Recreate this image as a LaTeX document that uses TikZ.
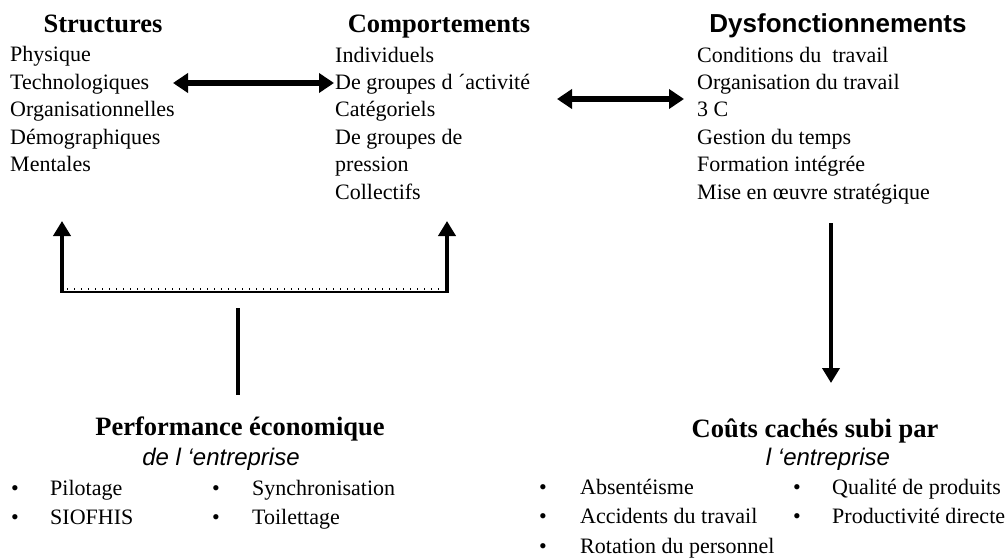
\documentclass[tikz,border=0pt]{standalone}
\usepackage{fontspec}
\setmainfont{Liberation Serif}
\newfontfamily\sansf{Liberation Sans}
\usetikzlibrary{arrows.meta}
\begin{document}
\begin{tikzpicture}[x=1pt,y=-1pt,
  title/.style={anchor=base,inner sep=0pt,font=\fontsize{26.5}{30}\selectfont\bfseries},
  stitle/.style={anchor=base,inner sep=0pt,font=\fontsize{26}{30}\sansf\bfseries},
  sub/.style={anchor=base,inner sep=0pt,font=\fontsize{24}{28}\sansf\itshape},
  lst/.style={anchor=base west,inner sep=0pt,align=left,font=\fontsize{22}{27.4}\selectfont},
  blst/.style={anchor=base west,inner sep=0pt,align=left,font=\fontsize{22}{29.5}\selectfont},
  dbl/.style={line width=6pt,{Triangle[width=19pt,length=15pt]}-{Triangle[width=19pt,length=15pt]}},
  one/.style={line width=4pt,-{Triangle[width=17pt,length=15pt]}},
  bar/.style={line width=4pt}]
\useasboundingbox (0,0) rectangle (1008,559);

% top row: three columns (list nodes are placed by the baseline of their last line)
\node[title] (tS) at (103,33) {Structures};
\node[lst] (lS) at (10,171.6) {Physique\\Technologiques\\Organisationnelles\\D\'emographiques\\Mentales};
\node[title] (tC) at (439,33) {Comportements};
\node[lst] (lC) at (335,199) {Individuels\\De groupes d ´activit\'e\\Cat\'egoriels\\De groupes de\\pression\\Collectifs};
\node[stitle] (tD) at (838,33) {Dysfonctionnements};
\node[lst] (lD) at (697,199) {Conditions du\ \ travail\\Organisation du travail\\3 C\\Gestion du temps\\Formation int\'egr\'ee\\Mise en \oe uvre strat\'egique};

% bottom row
\node[title] (tP) at (240,435) {Performance \'economique};
\node[sub] (sP) at (221,465) {de l \textquoteleft entreprise};
\node[blst] (bP1) at (11,524.5) {\textbullet\\\textbullet};
\node[blst] (xP1) at (50,524.5) {Pilotage\\SIOFHIS};
\node[blst] (bP2) at (212,524.5) {\textbullet\\\textbullet};
\node[blst] (xP2) at (252,524.5) {Synchronisation\\Toilettage};

\node[title] (tK) at (815,437) {Co\^uts cach\'es subi par};
\node[sub] (sK) at (828,465) {l \textquoteleft entreprise};
\node[blst] (bK1) at (539,553) {\textbullet\\\textbullet\\\textbullet};
\node[blst] (xK1) at (580,553) {Absent\'eisme\\Accidents du travail\\Rotation du personnel};
\node[blst] (bK2) at (793,523.5) {\textbullet\\\textbullet};
\node[blst] (xK2) at (832,523.5) {Qualit\'e de produits\\Productivit\'e directe};

% connector end points
\coordinate (a1) at (173,83);
\coordinate (a2) at (334,83);
\coordinate (b1) at (557,99);
\coordinate (b2) at (684,99);
\coordinate (jl) at (62,292);
\coordinate (jr) at (447,292);
\coordinate (ul) at (62,221);
\coordinate (ur) at (447,221);
\coordinate (vt) at (238,308);
\coordinate (vb) at (238,395);
\coordinate (dt) at (831,223);
\coordinate (db) at (831,383);

% connectors
\draw[dbl] (a1) -- (a2);
\draw[dbl] (b1) -- (b2);
\draw[one] (jl) -- (ul);
\draw[one] (jr) -- (ur);
\draw[line width=2.5pt] ([xshift=-2pt]jl) -- ([xshift=2pt]jr);
\draw[line width=2pt,dash pattern=on 1pt off 6pt] ([xshift=-2pt,yshift=3pt]jl) -- ([xshift=2pt,yshift=3pt]jr);
\draw[bar] (vt) -- (vb);
\draw[one] (dt) -- (db);
\end{tikzpicture}
\end{document}
